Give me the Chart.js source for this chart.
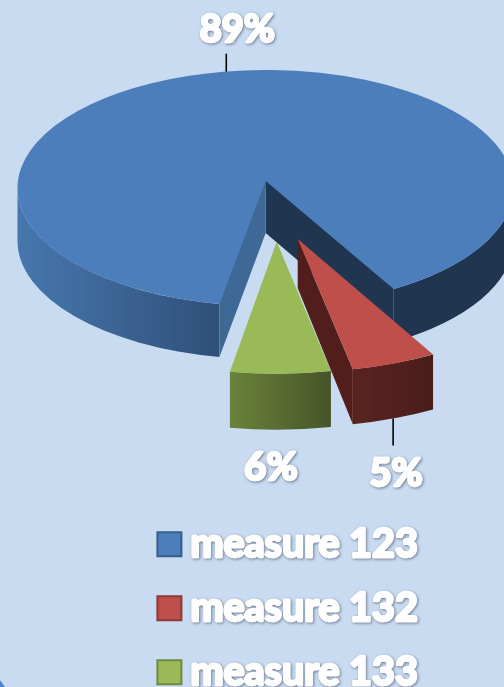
<!DOCTYPE html>
<html>
<head>
<meta charset="utf-8">
<style>
html,body{margin:0;padding:0;background:#c9dbf1;overflow:hidden}
#wrap{position:relative;width:504px;height:687px}
canvas{display:block}
#corner{position:absolute;left:0;top:680px;width:5px;height:7px;background:#4a86cf;clip-path:polygon(0 0,100% 100%,0 100%)}
</style>
<script src="https://cdn.jsdelivr.net/npm/chart.js@4"></script>
</head>
<body>
<div id="wrap"><canvas id="c" width="504" height="687"></canvas><div id="corner"></div></div>
<script>
const categories = ['measure 123', 'measure 132', 'measure 133'];
const values = [89, 5, 6];
const topColors = ['#4c7ebb', '#bf4f4b', '#9aba58'];
const legendBorders = ['#385d8a', '#8c3836', '#71893f'];

const FONT = 'Lato';
const DEG = Math.PI/180;
const views = [
  {x:265.5,y:188,s:1,tilt:0.476,ax:265.7,ay:181,depth:53,apexDepth:52,trimStart:0.7*DEG,trimEnd:1.5*DEG,
   wall:[['#4777ae','#2f5079'],['#1f3550','#1f3550']],
   label:{dx:14,dy:-41.7,leader:-18,leaderDx:3,bottom:false}},
  {x:297.7,y:239,s:1.105,tilt:0.485,ax:297.7,ay:239,depth:55,apexDepth:49,trimStart:0,trimEnd:0,
   wall:[['#5a2320','#4a1d1a']],
   label:{dx:2,dy:55,leader:27,leaderDx:-1,bottom:true}},
  {x:276.7,y:241.7,s:1.087,tilt:0.49,ax:276.7,ay:241.7,depth:56,apexDepth:0,trimStart:0,trimEnd:0,
   wall:[['#6c813b','#465529']],
   label:{dx:-9.5,dy:38,leader:0,leaderDx:0,bottom:true}}
];
const faceColors = {left:'#3e6997', right:'#1f3550', red:'#521e1b'};

function rim(v, arc, a, dz){
  const r = arc.outerRadius * v.s;
  return {x:v.x + r*Math.cos(a), y:v.y + r*v.tilt*Math.sin(a) + (dz||0)};
}
function drawWall(ctx, v, arc, a1, a2, c){
  const rx = arc.outerRadius*v.s, ry = rx*v.tilt;
  const p1 = rim(v,arc,a1), p2 = rim(v,arc,a2);
  const g = ctx.createLinearGradient(Math.min(p1.x,p2.x),0,Math.max(p1.x,p2.x),0);
  g.addColorStop(0,c[0]); g.addColorStop(1,c[1]);
  ctx.fillStyle = g;
  ctx.beginPath();
  ctx.ellipse(v.x,v.y,rx,ry,0,a1,a2);
  ctx.ellipse(v.x,v.y+v.depth,rx,ry,0,a2,a1,true);
  ctx.closePath();
  ctx.fill();
}
function drawFace(ctx, v, arc, a, color){
  const p = rim(v,arc,a), q = rim(v,arc,a,v.depth);
  ctx.fillStyle = color;
  ctx.beginPath();
  ctx.moveTo(v.ax,v.ay);
  ctx.lineTo(v.ax,v.ay+v.apexDepth);
  ctx.lineTo(q.x,q.y);
  ctx.lineTo(p.x,p.y);
  ctx.closePath();
  ctx.fill();
}
function drawTop(ctx, v, arc){
  ctx.save();
  ctx.translate(v.x,v.y);
  ctx.scale(v.s,v.s*v.tilt);
  ctx.translate(-arc.x,-arc.y);
  arc.draw(ctx);
  ctx.restore();
}
const TAU = Math.PI*2;

const pie3d = {
  id:'pie3d',
  beforeDraw(chart){
    const lg = chart.legend;
    if(lg && !lg.__wrapped){
      lg.__wrapped = true;
      const base = lg.draw.bind(lg);
      lg.draw = function(){
        const ctx = chart.ctx;
        ctx.fillText = function(t,x,y){ shadowText(ctx,t,x-10.75,y); };
        base();
        delete ctx.fillText;
      };
    }
  },
  beforeDatasetDraw(chart){
    const ctx = chart.ctx;
    const [b,r,g] = chart.getDatasetMeta(0).data;
    ctx.save();
    const vb = views[0];
    const bs = b.startAngle+vb.trimStart, be = b.endAngle-vb.trimEnd;
    drawWall(ctx,vb,b,bs,Math.PI,vb.wall[0]);
    drawWall(ctx,vb,b,TAU,be,vb.wall[1]);
    drawTop(ctx,vb,b);
    drawFace(ctx,vb,b,be,faceColors.right);
    drawFace(ctx,vb,b,bs,faceColors.left);
    const vg = views[2];
    drawWall(ctx,vg,g,g.startAngle,g.endAngle,vg.wall[0]);
    drawTop(ctx,vg,g);
    const vr = views[1];
    drawFace(ctx,vr,r,r.endAngle,faceColors.red);
    drawWall(ctx,vr,r,r.startAngle,r.endAngle,vr.wall[0]);
    drawTop(ctx,vr,r);
    ctx.restore();
    return false;
  },
  afterDraw(chart){
    const ctx = chart.ctx;
    const arcs = chart.getDatasetMeta(0).data;
    ctx.save();
    ctx.font = '700 38px '+FONT;
    ctx.textAlign='center';
    ctx.textBaseline='middle';
    arcs.forEach((arc,i)=>{
      const v = views[i], L = v.label;
      const mid = (arc.startAngle+arc.endAngle)/2;
      const p = rim(v,arc,mid,L.bottom?v.depth:0);
      if(L.leader){
        ctx.strokeStyle='#000';ctx.lineWidth=1.6;
        ctx.beginPath();ctx.moveTo(p.x+L.leaderDx,p.y);ctx.lineTo(p.x+L.leaderDx,p.y+L.leader);ctx.stroke();
      }
      ctx.fillStyle='#fff';
      shadowText(ctx,values[i]+'%',p.x+L.dx,p.y+L.dy);
    });
    ctx.restore();
  }
};
function shadowText(ctx,t,x,y){
  const ft = CanvasRenderingContext2D.prototype.fillText;
  ctx.save();
  ctx.lineJoin='round';
  ctx.strokeStyle='#fff';
  ctx.lineWidth=2.4;
  ctx.shadowColor='rgba(50,60,80,0.7)';
  ctx.shadowBlur=3;
  ctx.shadowOffsetX=1;
  ctx.shadowOffsetY=1;
  ctx.strokeText(t,x,y);
  ctx.shadowColor='transparent';
  ctx.strokeText(t,x,y);
  ft.call(ctx,t,x,y);
  ctx.restore();
}

new Chart(document.getElementById('c'),{
  type:'pie',
  data:{labels:categories,datasets:[{data:values,backgroundColor:topColors,borderWidth:0,clip:false}]},
  options:{
    responsive:false,animation:false,
    rotation:190,
    radius:248,
    layout:{padding:{left:82,right:0,top:0,bottom:-15}},
    plugins:{
      tooltip:{enabled:false},
      legend:{
        position:'bottom',
        labels:{
          boxWidth:24,boxHeight:24,padding:24.5,color:'#fff',
          font:{family:FONT,size:39.5,weight:'700'},
          generateLabels(){
            return categories.map((t,i)=>({text:t,fillStyle:topColors[i],strokeStyle:legendBorders[i],lineWidth:2,fontColor:'#fff',index:i}));
          }
        }
      }
    }
  },
  plugins:[pie3d]
});
</script>
</body>
</html>
